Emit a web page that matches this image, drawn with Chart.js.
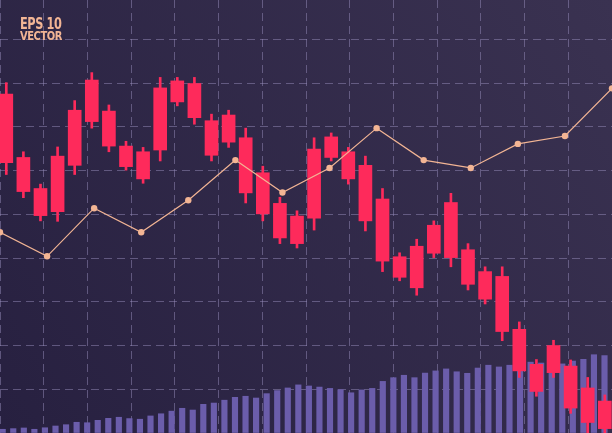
<!DOCTYPE html>
<html lang="en">
<head>
    <meta charset="UTF-8">
    <title>Candles</title>
    <script src="https://cdn.jsdelivr.net/npm/chart.js"></script>
    <style>
        body { margin: 0; background: #2a2341; }
        #wrap { position: relative; width: 612px; height: 433px; overflow: hidden; }
        #stamp {
            position: absolute; left: 20px; top: 18px;
            color: #f2b595; font-family: "DejaVu Sans Condensed", "DejaVu Sans", sans-serif;
            font-weight: bold;
        }
        #stamp div { transform-origin: left top; white-space: nowrap; }
        #stamp .l1 { font-size: 15px; line-height: 13px; letter-spacing: -0.5px; transform: scaleX(0.84); }
        #stamp .l2 { font-size: 12px; line-height: 11px; letter-spacing: -0.5px; transform: scaleX(0.92); }
    </style>
</head>
<body>
    <div id="wrap">
        <canvas id="chart" width="612" height="433"></canvas>
        <div id="stamp"><div class="l1">EPS 10</div><div class="l2">VECTOR</div></div>
    </div>
    <script>
        // candles (all drawn red, open = top of body, close = bottom)
        const open  = [77.5, 63.0, 55.9, 63.3, 73.8, 80.7, 73.6, 65.6, 64.3, 78.9, 80.5, 79.9,
                       71.4, 72.7, 67.5, 59.5, 52.5, 49.6, 64.9, 67.7, 64.3, 61.2, 53.5, 40.3,
                       42.7, 47.5, 52.7, 41.9, 36.9, 35.8, 23.7, 15.7, 20.0, 15.3, 10.3, 7.3];
        const close = [61.8, 55.2, 49.7, 50.6, 61.2, 71.2, 65.6, 60.9, 58.1, 64.7, 75.7, 72.1,
                       63.5, 66.5, 54.9, 50.1, 44.6, 43.3, 49.1, 63.0, 58.1, 48.5, 39.3, 35.6,
                       33.2, 41.1, 40.1, 34.0, 30.6, 23.2, 14.2, 9.5, 13.8, 5.7, 2.4, 1.0];
        const high  = [80.1, 64.3, 56.9, 65.4, 76.0, 82.4, 75.0, 66.7, 65.3, 81.3, 81.3, 81.3,
                       72.9, 73.8, 69.7, 61.0, 53.9, 50.8, 67.5, 68.6, 65.3, 63.3, 55.9, 41.2,
                       44.3, 48.5, 54.8, 43.3, 38.0, 38.0, 25.4, 16.8, 21.2, 16.7, 12.7, 8.7];
        const low   = [59.1, 53.8, 48.5, 48.4, 59.1, 69.7, 64.3, 60.1, 57.1, 62.2, 74.8, 70.6,
                       62.2, 65.3, 52.6, 48.5, 43.3, 42.3, 46.4, 62.2, 56.9, 46.2, 36.9, 34.8,
                       31.5, 40.1, 38.0, 32.7, 29.5, 21.1, 12.7, 8.4, 12.7, 4.5, -2, -2];

        // trend line
        const trend = [45.9, 40.4, 51.4, 45.9, 53.2, 62.4, 55.0, 60.6, 69.7, 62.4, 60.6, 66.1, 67.9, 78.8];

        // volume bars
        const volume = [0.85, 1.0, 1.15, 0.85, 1.2, 1.6, 1.9, 2.45, 2.35, 2.9, 3.35, 3.6, 3.3, 3.15,
                        3.9, 4.4, 5.0, 5.65, 5.25, 6.55, 6.85, 7.5, 8.15, 8.4, 8.0, 9.0, 9.7, 10.3,
                        11.0, 10.75, 10.5, 10.2, 9.9, 9.2, 9.85, 10.2, 11.8, 12.65, 13.2, 12.65, 13.7,
                        14.2, 14.65, 14.0, 13.65, 14.85, 15.5, 15.1, 15.5, 15.8, 16.2, 16.0, 16.0,
                        15.8, 16.45, 16.85, 17.9, 17.7];

        const red = '#fe2a5b';
        const peach = '#f3b594';
        const gridColor = 'rgba(150,140,185,0.5)';

        const bgPlugin = {
            id: 'bg',
            beforeDraw(chart) {
                const c = chart.ctx;
                const g = c.createLinearGradient(0, chart.height, chart.width, 0);
                g.addColorStop(0, '#272040');
                g.addColorStop(1, '#3a3251');
                c.save();
                c.fillStyle = g;
                c.fillRect(0, 0, chart.width, chart.height);
                c.restore();
            }
        };

        const hidden = (min, max) => ({
            type: 'linear', display: false, offset: false, min: min, max: max,
            grid: { offset: false }
        });

        new Chart(document.getElementById('chart'), {
            type: 'bar',
            data: {
                datasets: [
                    {
                        type: 'line',
                        xAxisID: 'xl',
                        data: trend.map((v, i) => ({ x: i, y: v })),
                        borderColor: peach,
                        borderWidth: 1.2,
                        pointRadius: 3.2,
                        pointBackgroundColor: peach,
                        pointBorderWidth: 0,
                        tension: 0,
                        order: 0
                    },
                    {
                        xAxisID: 'xc',
                        data: open.map((o, i) => ({ x: i, y: [close[i], o] })),
                        backgroundColor: red,
                        barThickness: 13,
                        grouped: false,
                        order: 1
                    },
                    {
                        xAxisID: 'xc',
                        data: high.map((h, i) => ({ x: i, y: [low[i], h] })),
                        backgroundColor: red,
                        barThickness: 2,
                        grouped: false,
                        order: 2
                    },
                    {
                        xAxisID: 'xv',
                        data: volume.map((v, i) => ({ x: i, y: v })),
                        backgroundColor: '#6b5dab',
                        barThickness: 5.5,
                        grouped: false,
                        order: 3
                    }
                ]
            },
            options: {
                responsive: false,
                animation: false,
                events: [],
                layout: { padding: 0, autoPadding: false },
                plugins: { legend: { display: false }, tooltip: { enabled: false } },
                scales: {
                    xg: {
                        type: 'linear', position: 'bottom', min: 0, max: 14, offset: false,
                        ticks: { display: false, stepSize: 1 },
                        grid: { color: gridColor, lineWidth: 1, drawTicks: false, offset: false },
                        border: { display: false, dash: [8, 5] }
                    },
                    xc: hidden(-0.368, 35.42),
                    xv: hidden(-0.256, 57.71),
                    xl: hidden(0, 13),
                    y: {
                        type: 'linear', min: 0, max: 99,
                        ticks: { display: false, stepSize: 10, includeBounds: false },
                        grid: { color: gridColor, lineWidth: 1, drawTicks: false },
                        border: { display: false, dash: [8, 5] }
                    }
                }
            },
            plugins: [bgPlugin]
        });
    </script>
</body>
</html>
